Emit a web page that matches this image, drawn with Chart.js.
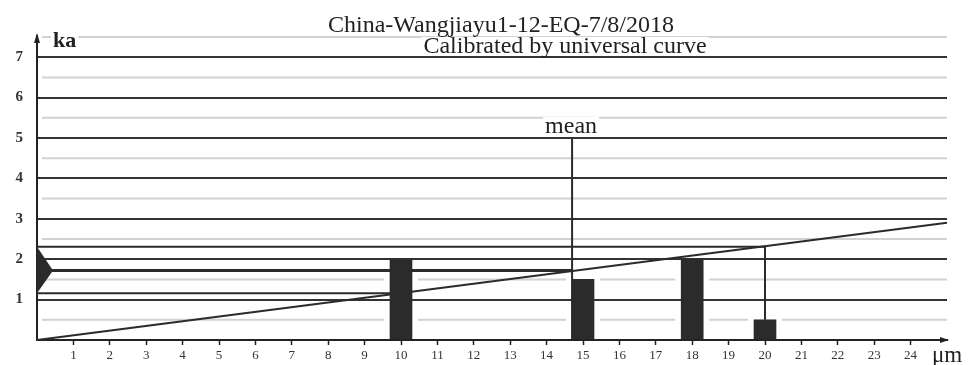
<!DOCTYPE html>
<html>
<head>
<meta charset="utf-8">
<script src="https://cdn.jsdelivr.net/npm/chart.js@4/dist/chart.umd.min.js"></script>
<style>
  html, body { margin: 0; padding: 0; background: #fff; }
  #wrap { width: 973px; height: 365px; position: relative; }
</style>
</head>
<body>
<div id="wrap"><canvas id="c" width="973" height="365"></canvas></div>
<script>
// Grain-size histogram (μm) with the universal calibration curve (ka)
const titleLines = ['China-Wangjiayu1-12-EQ-7/8/2018', 'Calibrated by universal curve'];
const grainSizes = [10, 15, 18, 20];          // μm
const barHeights = [2, 1.5, 2, 0.5];          // counts on the ka axis
const curveUm = [0, 25];                      // calibration line end points
const curveKa = [0, 2.9];
const meanUm = 14.7;
const meanKa = 1.72;
const meanMarkerTop = 5;
const rangeLowUm = 10;
const rangeLowKa = 1.16;
const rangeHighUm = 20;
const rangeHighKa = 2.31;
const yTickLabels = ['1', '2', '3', '4', '5', '6', '7'];
const xTickLabels = ['1','2','3','4','5','6','7','8','9','10','11','12','13','14','15','16','17','18','19','20','21','22','23','24'];

const INK = '#2b2b2b';
const LIGHT = '#d2d2d2';
const SERIF = '"Liberation Serif", "Times New Roman", serif';

const pts = (xs, ys) => xs.map((x, i) => ({ x: x, y: ys[i] }));
const lineDs = (data, width) => ({
  type: 'line', data: data, borderColor: INK, borderWidth: width || 2,
  pointRadius: 0, tension: 0, fill: false, order: 2, clip: false
});

// half-unit light rules, broken around the bars they pass behind
const lightRules = {
  id: 'lightRules',
  beforeDatasetsDraw(chart) {
    const { ctx, chartArea, scales } = chart;
    const meta = chart.getDatasetMeta(0);
    ctx.save();
    ctx.strokeStyle = LIGHT;
    ctx.lineWidth = 2;
    for (let v = 0.5; v <= 7.5; v += 1) {
      const y = scales.y.getPixelForValue(v);
      const gaps = [];
      meta.data.forEach((el, i) => {
        if (barHeights[i] >= v) gaps.push([el.x - el.width / 2 - 6, el.x + el.width / 2 + 6]);
      });
      let x0 = chartArea.left + 5;
      ctx.beginPath();
      gaps.sort((a, b) => a[0] - b[0]).forEach(g => {
        ctx.moveTo(x0, y); ctx.lineTo(g[0], y); x0 = g[1];
      });
      ctx.moveTo(x0, y); ctx.lineTo(chartArea.right, y);
      ctx.stroke();
    }
    ctx.restore();
  }
};

function boxedText(ctx, text, x, y, align) {
  ctx.textAlign = align;
  const w = ctx.measureText(text).width;
  const left = align === 'center' ? x - w / 2 : x;
  ctx.fillStyle = '#fff';
  ctx.fillRect(left - 2, y - 16, w + 4, 18);
  ctx.fillStyle = '#222';
  ctx.fillText(text, x, y);
}

const decorations = {
  id: 'decorations',
  afterDatasetsDraw(chart) {
    const { ctx, chartArea, scales } = chart;
    const xs = scales.x, ys = scales.y;
    ctx.save();
    // age-range marker on the ka axis
    ctx.fillStyle = INK;
    ctx.beginPath();
    ctx.moveTo(chartArea.left, ys.getPixelForValue(rangeHighKa));
    ctx.lineTo(chartArea.left + 16, ys.getPixelForValue(meanKa));
    ctx.lineTo(chartArea.left, ys.getPixelForValue(rangeLowKa));
    ctx.closePath();
    ctx.fill();

    ctx.textBaseline = 'alphabetic';
    // mean label
    ctx.font = '24px ' + SERIF;
    boxedText(ctx, 'mean', xs.getPixelForValue(meanUm) - 1, ys.getPixelForValue(meanMarkerTop) - 5, 'center');
    // axis arrows
    ctx.fillStyle = '#222';
    ctx.strokeStyle = '#222';
    ctx.lineWidth = 2;
    ctx.beginPath();
    ctx.moveTo(chartArea.left, chartArea.top);
    ctx.lineTo(chartArea.left, chartArea.top - 2);
    ctx.stroke();
    ctx.beginPath();
    ctx.moveTo(chartArea.left, chartArea.top - 4);
    ctx.lineTo(chartArea.left - 3, chartArea.top + 6);
    ctx.lineTo(chartArea.left + 3, chartArea.top + 6);
    ctx.closePath();
    ctx.fill();
    ctx.beginPath();
    ctx.moveTo(chartArea.right + 2, chartArea.bottom);
    ctx.lineTo(chartArea.right - 7, chartArea.bottom - 3);
    ctx.lineTo(chartArea.right - 7, chartArea.bottom + 3);
    ctx.closePath();
    ctx.fill();

    // titles
    ctx.font = '24px ' + SERIF;
    ctx.fillStyle = '#222';
    ctx.textAlign = 'center';
    ctx.fillText(titleLines[0], 501, 32);
    boxedText(ctx, titleLines[1], 565, 53, 'center');
    // axis units
    ctx.font = 'bold 22px ' + SERIF;
    boxedText(ctx, 'ka', 53, 47, 'left');
    ctx.font = '23px ' + SERIF;
    ctx.fillStyle = '#222';
    ctx.textAlign = 'left';
    ctx.fillText('μm', 932, 362);
    ctx.restore();
  }
};

new Chart(document.getElementById('c'), {
  type: 'bar',
  data: {
    datasets: [
      {
        type: 'bar', data: pts(grainSizes, barHeights), backgroundColor: INK,
        borderWidth: 0, barThickness: 22, order: 0
      },
      lineDs(pts(curveUm, curveKa), 2),
      lineDs([{ x: 0, y: rangeHighKa }, { x: rangeHighUm, y: rangeHighKa }, { x: rangeHighUm, y: barHeights[3] }], 2),
      lineDs([{ x: 0, y: rangeLowKa }, { x: rangeLowUm, y: rangeLowKa }], 2),
      lineDs([{ x: 0, y: meanKa }, { x: meanUm, y: meanKa }], 3),
      lineDs([{ x: meanUm, y: 0 }, { x: meanUm, y: meanMarkerTop }], 2)
    ]
  },
  options: {
    responsive: false,
    animation: false,
    layout: { padding: { left: 0, right: 26, top: 37, bottom: 0 } },
    plugins: { legend: { display: false }, tooltip: { enabled: false }, title: { display: false } },
    scales: {
      x: {
        type: 'linear', min: 0, max: 25, offset: false,
        afterFit: s => { s.height = 25; },
        border: { display: true, color: '#222', width: 2 },
        grid: {
          drawOnChartArea: false, drawTicks: true, tickLength: 5, offset: false,
          tickColor: c => (c.tick.value >= 1 && c.tick.value <= 24) ? '#222' : 'rgba(0,0,0,0)',
          tickWidth: 1.5
        },
        ticks: {
          stepSize: 1, autoSkip: false, maxRotation: 0, padding: 3,
          color: '#333', font: { family: SERIF, size: 13 },
          callback: v => xTickLabels[v - 1] || ''
        }
      },
      y: {
        type: 'linear', min: 0, max: 7.5,
        afterFit: s => { s.width = 37; },
        border: { display: true, color: '#222', width: 2 },
        grid: {
          drawTicks: false,
          color: c => (Number.isInteger(c.tick.value) && c.tick.value > 0) ? '#333' : 'rgba(0,0,0,0)',
          lineWidth: 2
        },
        ticks: {
          stepSize: 0.5, autoSkip: false, padding: 14,
          color: '#333', font: { family: SERIF, size: 15, weight: 'bold' },
          callback: v => Number.isInteger(v) ? (yTickLabels[v - 1] || '') : ''
        }
      }
    }
  },
  plugins: [lightRules, decorations]
});
</script>
</body>
</html>
